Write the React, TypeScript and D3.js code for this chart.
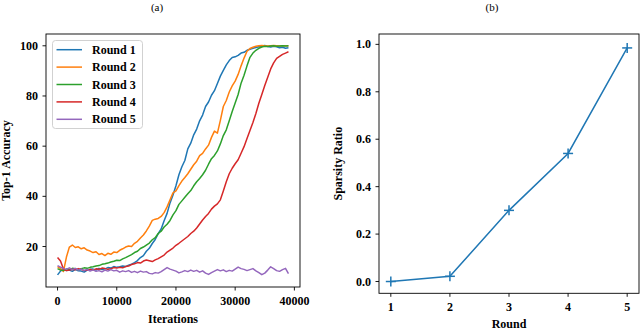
import React from "react";
import * as d3 from "d3";

// training curves, one value every 500 iterations (0 .. 39000)
const iterStep = 500;
const roundNames = ["Round 1", "Round 2", "Round 3", "Round 4", "Round 5"];
const roundColors = ["#1f77b4", "#ff7f0e", "#2ca02c", "#d62728", "#9467bd"];

const round1 = [
  8.7, 10.2, 11.1, 10.4, 10.6, 10.1, 10.9, 10.3, 10.2, 9.8, 10.6, 10.9, 11.0, 10.6, 11.3, 10.8,
  11.1, 11.6, 11.4, 12.0, 11.7, 11.9, 12.2, 12.0, 12.6, 13.0, 13.6, 14.4, 15.6, 16.4, 18.1, 19.3,
  21.2, 22.8, 25.1, 27.0, 30.3, 33.2, 37.4, 40.5, 44.2, 48.6, 51.8, 54.3, 58.9, 61.2, 64.5, 66.8,
  70.1, 72.4, 75.8, 77.6, 80.3, 82.1, 85.0, 87.9, 90.2, 92.4, 94.1, 95.3, 95.6, 96.2, 97.1, 97.4,
  98.2, 98.6, 99.0, 99.3, 99.6, 99.8, 100.1, 99.7, 99.5, 99.8, 99.6, 99.2, 99.4, 99.0, 99.2,
];
const round2 = [
  12.0, 11.2, 10.1, 15.8, 19.8, 20.6, 19.6, 19.9, 19.1, 19.5, 18.6, 18.2, 17.6, 17.9, 16.8, 17.2,
  16.4, 17.3, 16.9, 17.8, 17.6, 18.5, 19.1, 19.8, 20.2, 20.0, 21.3, 22.1, 23.4, 24.6, 26.2, 28.1,
  30.4, 30.9, 31.2, 32.0, 33.5, 35.8, 38.6, 41.4, 42.2, 44.3, 46.1, 47.5, 49.0, 50.8, 52.6, 54.0,
  56.2, 57.1, 58.9, 60.4, 63.5, 66.0, 65.2, 70.3, 75.8, 78.2, 81.6, 84.0, 85.9, 88.6, 92.0, 95.1,
  97.8, 98.9, 99.4, 99.8, 100.0, 100.1, 100.0, 99.9, 100.0, 100.1, 100.0, 99.9, 100.0, 100.0, 99.9,
];
const round3 = [
  11.2, 10.6, 10.4, 11.0, 10.8, 11.3, 11.1, 10.7, 11.2, 11.5, 11.3, 11.7, 11.9, 12.2, 12.4, 12.9,
  13.1, 13.4, 13.8, 14.1, 14.5, 14.4, 15.1, 15.6, 16.2, 16.8, 17.6, 18.1, 19.2, 19.8, 20.6, 21.4,
  22.7, 23.5, 25.2, 26.1, 27.8, 28.9, 30.4, 32.6, 34.3, 36.8, 38.2, 39.6, 41.0, 42.3, 44.2, 45.8,
  47.1, 48.6, 50.4, 52.8, 55.0, 56.3, 58.1, 60.9, 64.2, 66.5, 70.1, 73.8, 77.2, 80.6, 85.1, 88.3,
  92.0, 95.4, 97.1, 98.2, 99.0, 99.5, 99.8, 99.7, 99.9, 100.0, 99.8, 99.9, 100.0, 99.9, 100.0,
];
const round4 = [
  15.6, 14.2, 11.0, 10.4, 10.6, 10.9, 10.7, 11.2, 10.9, 10.4, 10.6, 10.8, 10.6, 11.1, 10.9, 11.4,
  11.2, 10.9, 11.1, 11.6, 11.4, 11.7, 11.5, 12.0, 12.2, 12.8, 13.1, 13.6, 13.4, 14.2, 14.6, 14.3,
  14.0, 14.7, 15.2, 15.9, 16.6, 17.8, 18.6, 19.4, 20.5, 21.3, 22.2, 23.1, 24.0, 25.2, 26.1, 27.4,
  29.0, 30.6, 32.0, 33.2, 34.9, 36.1, 37.0, 38.6, 42.1, 45.8, 49.0, 51.2, 53.0, 54.6, 57.2, 59.8,
  63.1, 66.2, 69.4, 73.0, 77.1, 80.6, 84.2, 87.5, 90.8, 93.2, 95.0, 95.8, 96.6, 97.1, 97.6,
];
const round5 = [
  12.4, 11.8, 11.2, 10.9, 11.5, 10.8, 11.3, 10.6, 11.0, 10.5, 10.9, 10.2, 10.7, 10.1, 10.4, 9.9,
  10.6, 10.2, 10.8, 10.3, 10.5, 9.8, 10.3, 10.0, 10.4, 9.7, 10.1, 9.6, 10.2, 9.8, 10.0, 9.3,
  9.1, 9.6, 9.4, 10.0, 10.8, 11.6, 11.0, 10.6, 10.2, 9.5, 9.9, 10.4, 10.0, 10.6, 10.1, 10.5,
  9.8, 10.3, 9.4, 8.9, 9.6, 10.2, 10.8, 10.3, 10.7, 10.0, 10.5, 10.2, 11.0, 11.8, 11.2, 10.9,
  10.4, 10.8, 11.2, 10.3, 9.6, 8.8, 9.4, 10.6, 11.9, 11.2, 10.4, 10.1, 10.8, 11.3, 9.2,
];
const accuracySeries = [round1, round2, round3, round4, round5];
const accTicks = [20, 40, 60, 80, 100];
const iterTicks = [0, 10000, 20000, 30000, 40000];

// sparsity per pruning round
const rounds = [1, 2, 3, 4, 5];
const sparsity = [0.0, 0.022, 0.3, 0.54, 0.985];
const sparsityTicks = [0.0, 0.2, 0.4, 0.6, 0.8, 1.0];

const FONT = "'Liberation Serif', 'Times New Roman', serif";

export default function App() {
  // left panel
  const L = { left: 46, right: 300, top: 34, bottom: 287 };
  const xIter = d3.scaleLinear().domain([-1950, 40950]).range([L.left, L.right]);
  const yAcc = d3.scaleLinear().domain([3.87, 104.7]).range([L.bottom, L.top]);
  const accLine = d3
    .line<number>()
    .x((_, i) => xIter(i * iterStep))
    .y((d) => yAcc(d));

  // right panel
  const R = { left: 379, right: 639, top: 34, bottom: 293.3 };
  const xRound = d3.scaleLinear().domain([0.8, 5.2]).range([R.left, R.right]);
  const ySp = d3.scaleLinear().domain([-0.0497, 1.0437]).range([R.bottom, R.top]);
  const spLine = d3
    .line<number>()
    .x((_, i) => xRound(rounds[i]))
    .y((d) => ySp(d));

  const tickStyle = { fontFamily: FONT, fontWeight: 700, fontSize: 12, fill: "#000" } as const;

  return (
    <svg
      width={640}
      height={330}
      style={{ position: "absolute", left: 0, top: 0, background: "#fff" }}
    >
      {/* titles */}
      <text x={157} y={11} textAnchor="middle" style={{ fontFamily: FONT, fontSize: 11 }}>
        (a)
      </text>
      <text x={492} y={11} textAnchor="middle" style={{ fontFamily: FONT, fontSize: 11 }}>
        (b)
      </text>

      {/* ---- (a) accuracy curves ---- */}
      <defs>
        <clipPath id="clipA">
          <rect x={L.left} y={L.top} width={L.right - L.left} height={L.bottom - L.top} />
        </clipPath>
      </defs>
      <g clipPath="url(#clipA)">
        {accuracySeries.map((s, k) => (
          <path
            key={k}
            d={accLine(s) || ""}
            fill="none"
            stroke={roundColors[k]}
            strokeWidth={1.5}
            strokeLinejoin="round"
          />
        ))}
      </g>
      <rect
        x={L.left}
        y={L.top}
        width={L.right - L.left}
        height={L.bottom - L.top}
        fill="none"
        stroke="#000"
        strokeWidth={0.9}
      />
      {accTicks.map((t) => (
        <g key={t}>
          <line x1={L.left - 3.5} x2={L.left} y1={yAcc(t)} y2={yAcc(t)} stroke="#000" strokeWidth={0.9} />
          <text x={L.left - 8} y={yAcc(t) + 4} textAnchor="end" style={tickStyle}>
            {t}
          </text>
        </g>
      ))}
      {iterTicks.map((t) => (
        <g key={t}>
          <line x1={xIter(t)} x2={xIter(t)} y1={L.bottom} y2={L.bottom + 3.5} stroke="#000" strokeWidth={0.9} />
          <text x={xIter(t)} y={L.bottom + 18} textAnchor="middle" style={tickStyle}>
            {t}
          </text>
        </g>
      ))}
      <text x={(L.left + L.right) / 2} y={323} textAnchor="middle" style={tickStyle}>
        Iterations
      </text>
      <text
        transform={`translate(10,${(L.top + L.bottom) / 2}) rotate(-90)`}
        textAnchor="middle"
        style={tickStyle}
      >
        Top-1 Accuracy
      </text>

      {/* legend */}
      <rect x={52.5} y={40.5} width={90} height={88} rx={3} fill="#fff" fillOpacity={0.8} stroke="#ccc" strokeWidth={0.9} />
      {roundNames.map((name, k) => {
        const yy = 49.7 + k * 17.4;
        return (
          <g key={name}>
            <line x1={56.5} x2={82} y1={yy} y2={yy} stroke={roundColors[k]} strokeWidth={1.5} />
            <text x={92} y={yy + 4} style={tickStyle}>
              {name}
            </text>
          </g>
        );
      })}

      {/* ---- (b) sparsity ---- */}
      <path d={spLine(sparsity) || ""} fill="none" stroke={roundColors[0]} strokeWidth={1.5} />
      {sparsity.map((v, i) => (
        <g key={i} transform={`translate(${xRound(rounds[i])},${ySp(v)})`}>
          <line x1={-5} x2={5} y1={0} y2={0} stroke={roundColors[0]} strokeWidth={1.5} />
          <line x1={0} x2={0} y1={-5} y2={5} stroke={roundColors[0]} strokeWidth={1.5} />
        </g>
      ))}
      <rect
        x={R.left}
        y={R.top}
        width={R.right - R.left}
        height={R.bottom - R.top}
        fill="none"
        stroke="#000"
        strokeWidth={0.9}
      />
      {sparsityTicks.map((t) => (
        <g key={t}>
          <line x1={R.left - 3.5} x2={R.left} y1={ySp(t)} y2={ySp(t)} stroke="#000" strokeWidth={0.9} />
          <text x={R.left - 8} y={ySp(t) + 4} textAnchor="end" style={tickStyle}>
            {t.toFixed(1)}
          </text>
        </g>
      ))}
      {rounds.map((t) => (
        <g key={t}>
          <line x1={xRound(t)} x2={xRound(t)} y1={R.bottom} y2={R.bottom + 3.5} stroke="#000" strokeWidth={0.9} />
          <text x={xRound(t)} y={R.bottom + 18} textAnchor="middle" style={tickStyle}>
            {t}
          </text>
        </g>
      ))}
      <text x={(R.left + R.right) / 2} y={328} textAnchor="middle" style={tickStyle}>
        Round
      </text>
      <text
        transform={`translate(342,${(R.top + R.bottom) / 2}) rotate(-90)`}
        textAnchor="middle"
        style={tickStyle}
      >
        Sparsity Ratio
      </text>
    </svg>
  );
}
